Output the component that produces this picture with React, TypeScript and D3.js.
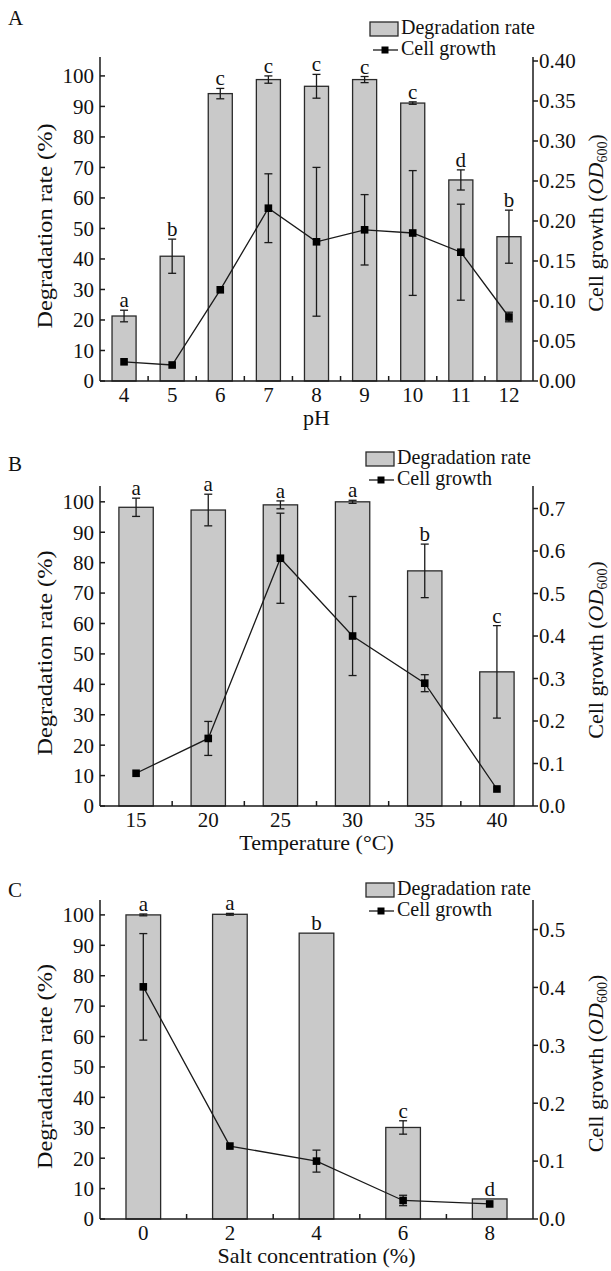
import React from "react";
import * as d3 from "d3";

// ---- data ----
// A: pH
const phCats = ["4", "5", "6", "7", "8", "9", "10", "11", "12"];
const phDeg = [21.3, 40.9, 94.2, 98.8, 96.6, 98.8, 91.1, 65.9, 47.3];
const phDegErr = [1.9, 5.6, 1.7, 1.2, 3.9, 1.0, 0.4, 3.3, 8.7];
const phLetters = ["a", "b", "c", "c", "c", "c", "c", "d", "b"];
const phGrowth = [0.024, 0.02, 0.114, 0.216, 0.174, 0.189, 0.185, 0.161, 0.08];
const phGrowthErr = [0, 0, 0, 0.043, 0.093, 0.044, 0.078, 0.06, 0.006];
const phGrowthTicks = [0, 0.05, 0.1, 0.15, 0.2, 0.25, 0.3, 0.35, 0.4];

// B: temperature
const tempCats = ["15", "20", "25", "30", "35", "40"];
const tempDeg = [98.2, 97.3, 99.0, 100.0, 77.3, 44.1];
const tempDegErr = [3.0, 5.2, 1.3, 0.5, 8.8, 15.2];
const tempLetters = ["a", "a", "a", "a", "b", "c"];
const tempGrowth = [0.077, 0.159, 0.583, 0.4, 0.289, 0.04];
const tempGrowthErr = [0, 0.04, 0.106, 0.093, 0.02, 0];
const tempGrowthTicks = [0, 0.1, 0.2, 0.3, 0.4, 0.5, 0.6, 0.7];

// C: salt
const saltCats = ["0", "2", "4", "6", "8"];
const saltDeg = [100.0, 100.2, 94.0, 30.1, 6.6];
const saltDegErr = [0.3, 0.3, 0, 2.2, 0];
const saltLetters = ["a", "a", "b", "c", "d"];
const saltGrowth = [0.401, 0.126, 0.1, 0.032, 0.026];
const saltGrowthErr = [0.092, 0, 0.019, 0.009, 0];
const saltGrowthTicks = [0, 0.1, 0.2, 0.3, 0.4, 0.5];

const degTicks = [0, 10, 20, 30, 40, 50, 60, 70, 80, 90, 100];

const FONT = "'Liberation Serif', 'Times New Roman', Times, serif";
const W = 611;
const H = 1271;
const X0 = 100;
const X1 = 533;
const BAR_FILL = "#c9c9c9";
const INK = "#1a1a1a";

const panels = [
  {
    tag: "A", tagY: 25, title: "pH", cats: phCats, deg: phDeg, degErr: phDegErr, letters: phLetters,
    growth: phGrowth, growthErr: phGrowthErr, gTicks: phGrowthTicks, gFmt: ".2f",
    top: 57, bottom: 381, degMax: 106.2, gMax: 0.405, barFrac: 0.5, legendX: 370, legendY: 22,
  },
  {
    tag: "B", tagY: 471, title: "Temperature (°C)", cats: tempCats, deg: tempDeg, degErr: tempDegErr, letters: tempLetters,
    growth: tempGrowth, growthErr: tempGrowthErr, gTicks: tempGrowthTicks, gFmt: ".1f",
    top: 486, bottom: 806, degMax: 105.2, gMax: 0.753, barFrac: 0.476, legendX: 366, legendY: 452,
  },
  {
    tag: "C", tagY: 897, title: "Salt concentration (%)", cats: saltCats, deg: saltDeg, degErr: saltDegErr, letters: saltLetters,
    growth: saltGrowth, growthErr: saltGrowthErr, gTicks: saltGrowthTicks, gFmt: ".1f",
    top: 900, bottom: 1219, degMax: 104.9, gMax: 0.551, barFrac: 0.4, legendX: 366, legendY: 883,
  },
];

type P = (typeof panels)[number];

function ErrBar({ x, y1, y2, cap }: { x: number; y1: number; y2: number; cap: number }) {
  return (
    <g stroke={INK} strokeWidth={1.3}>
      <line x1={x} x2={x} y1={y1} y2={y2} />
      <line x1={x - cap} x2={x + cap} y1={y1} y2={y1} />
      <line x1={x - cap} x2={x + cap} y1={y2} y2={y2} />
    </g>
  );
}

function Panel({ p }: { p: P }) {
  const x = d3.scalePoint<string>().domain(p.cats).range([X0, X1]).padding(0.5);
  const yL = d3.scaleLinear().domain([0, p.degMax]).range([p.bottom, p.top]);
  const yR = d3.scaleLinear().domain([0, p.gMax]).range([p.bottom, p.top]);
  const bw = x.step() * p.barFrac;
  const fmt = d3.format(p.gFmt);
  const mid = (p.top + p.bottom) / 2;
  const line = d3
    .line<number>()
    .x((_, i) => x(p.cats[i])!)
    .y((d) => yR(d));
  const minor = p.cats.slice(1).map((c, i) => (x(c)! + x(p.cats[i])!) / 2);

  return (
    <g>
      {/* panel tag */}
      <text x={8} y={p.tagY} fontSize={21}>{p.tag}</text>

      {/* bars */}
      {p.deg.map((d, i) => (
        <rect
          key={"b" + i}
          x={x(p.cats[i])! - bw / 2}
          y={yL(d)}
          width={bw}
          height={p.bottom - yL(d)}
          fill={BAR_FILL}
          stroke="#2a2a2a"
          strokeWidth={1.3}
        />
      ))}
      {p.deg.map((d, i) =>
        p.degErr[i] > 0 ? (
          <ErrBar key={"be" + i} x={x(p.cats[i])!} y1={yL(d + p.degErr[i])} y2={yL(d - p.degErr[i])} cap={4} />
        ) : null
      )}
      {p.deg.map((d, i) => (
        <text
          key={"l" + i}
          x={x(p.cats[i])!}
          y={yL(d + p.degErr[i]) - 3}
          fontSize={21}
          textAnchor="middle"
        >
          {p.letters[i]}
        </text>
      ))}

      {/* growth line */}
      <path d={line(p.growth)!} fill="none" stroke={INK} strokeWidth={1.3} />
      {p.growth.map((g, i) =>
        p.growthErr[i] > 0 ? (
          <ErrBar key={"ge" + i} x={x(p.cats[i])!} y1={yR(g + p.growthErr[i])} y2={yR(g - p.growthErr[i])} cap={4} />
        ) : null
      )}
      {p.growth.map((g, i) => (
        <rect key={"m" + i} x={x(p.cats[i])! - 3.8} y={yR(g) - 3.8} width={7.6} height={7.6} fill="#000" />
      ))}

      {/* axes */}
      <g stroke={INK} strokeWidth={1.5} fill="none">
        <line x1={X0} x2={X1} y1={p.bottom} y2={p.bottom} />
        <line x1={X0} x2={X0} y1={p.top} y2={p.bottom} />
        <line x1={X1} x2={X1} y1={p.top} y2={p.bottom} />
        {degTicks.map((t) => (
          <line key={"lt" + t} x1={X0} x2={X0 + 5} y1={yL(t)} y2={yL(t)} />
        ))}
        {p.gTicks.map((t) => (
          <line key={"rt" + t} x1={X1} x2={X1 + 5} y1={yR(t)} y2={yR(t)} />
        ))}
        {minor.map((m, i) => (
          <line key={"mt" + i} x1={m} x2={m} y1={p.bottom} y2={p.bottom - 5} />
        ))}
      </g>
      {degTicks.map((t) => (
        <text key={"ll" + t} x={X0 - 6} y={yL(t)} dy="0.35em" fontSize={21} textAnchor="end">
          {t}
        </text>
      ))}
      {p.gTicks.map((t) => (
        <text key={"rl" + t} x={X1 + 6} y={yR(t)} dy="0.35em" fontSize={21} textAnchor="start">
          {fmt(t)}
        </text>
      ))}
      {p.cats.map((c) => (
        <text key={"xl" + c} x={x(c)!} y={p.bottom + 21} fontSize={21} textAnchor="middle">
          {c}
        </text>
      ))}

      {/* axis titles */}
      <text x={(X0 + X1) / 2} y={p.bottom + 44} fontSize={22} textAnchor="middle">
        {p.title}
      </text>
      <text
        transform={`translate(52,${mid + 7}) rotate(-90)`}
        fontSize={22}
        textAnchor="middle"
        textLength={205}
        lengthAdjust="spacingAndGlyphs"
      >
        Degradation rate (%)
      </text>
      <text transform={`translate(603,${mid + 4}) rotate(-90)`} fontSize={22} textAnchor="middle">
        Cell growth (<tspan fontStyle="italic">OD</tspan>
        <tspan fontSize={14} dy={4}>600</tspan>
        <tspan dy={-4}>)</tspan>
      </text>

      {/* legend */}
      <rect x={p.legendX} y={p.legendY} width={28} height={14} fill={BAR_FILL} stroke="#2a2a2a" strokeWidth={1.3} />
      <text x={p.legendX + 31} y={p.legendY + 12} fontSize={20}>Degradation rate</text>
      <line x1={p.legendX + 3} x2={p.legendX + 28} y1={p.legendY + 28} y2={p.legendY + 28} stroke={INK} strokeWidth={1.3} />
      <rect x={p.legendX + 11.5} y={p.legendY + 24.5} width={7} height={7} fill="#000" />
      <text x={p.legendX + 31} y={p.legendY + 33} fontSize={20}>Cell growth</text>
    </g>
  );
}

export default function App() {
  return (
    <svg
      width={W}
      height={H}
      viewBox={`0 0 ${W} ${H}`}
      style={{ position: "absolute", left: 0, top: 0, background: "#fff" }}
      fontFamily={FONT}
      fill="#111"
    >
      <rect width={W} height={H} fill="#fff" />
      {panels.map((p) => (
        <Panel key={p.tag} p={p} />
      ))}
    </svg>
  );
}
